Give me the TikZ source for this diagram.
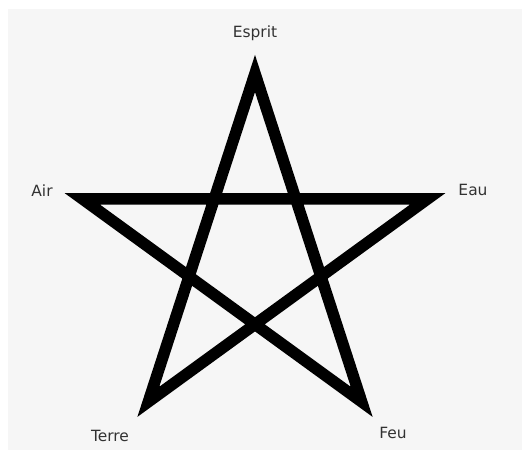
\documentclass[tikz,border=0pt]{standalone}
\usepackage{fontspec}
\setmainfont{DejaVu Sans}
\usepackage{tikz}
\usetikzlibrary{positioning}
\definecolor{paper}{RGB}{246,246,246}
\definecolor{inkgrey}{RGB}{50,50,50}

\begin{document}
\begin{tikzpicture}[
    frame/.style={fill=paper, draw=none},
    pstroke/.style={draw=black, line width=0.23cm, miter limit=10},
    elem/.style={font=\fontsize{8.8}{10}\selectfont, text=inkgrey, inner sep=0pt, anchor=base}
  ]
  \useasboundingbox (0,0) rectangle (10.44,9);
  \fill[frame] (0.16,0) rectangle (10.44,8.82);

  \def\R{3.63}
  \begin{scope}[shift={(5.1,3.9)}]
    \coordinate (esprit) at (90:\R);
    \coordinate (eau)    at (18:\R);
    \coordinate (feu)    at (-54:\R);
    \coordinate (terre)  at (-126:\R);
    \coordinate (air)    at (162:\R);
  \end{scope}

  \draw[pstroke] (esprit) -- (feu) -- (air) -- (eau) -- (terre) -- cycle;

  \node[elem] (lesprit) at (5.10,8.24) {Esprit};
  \node[elem] (lair)    at (0.84,5.06) {Air};
  \node[elem] (leau)    at (9.46,5.08) {Eau};
  \node[elem] (lterre)  at (2.20,0.17) {Terre};
  \node[elem] (lfeu)    at (7.86,0.22) {Feu};
\end{tikzpicture}
\end{document}
